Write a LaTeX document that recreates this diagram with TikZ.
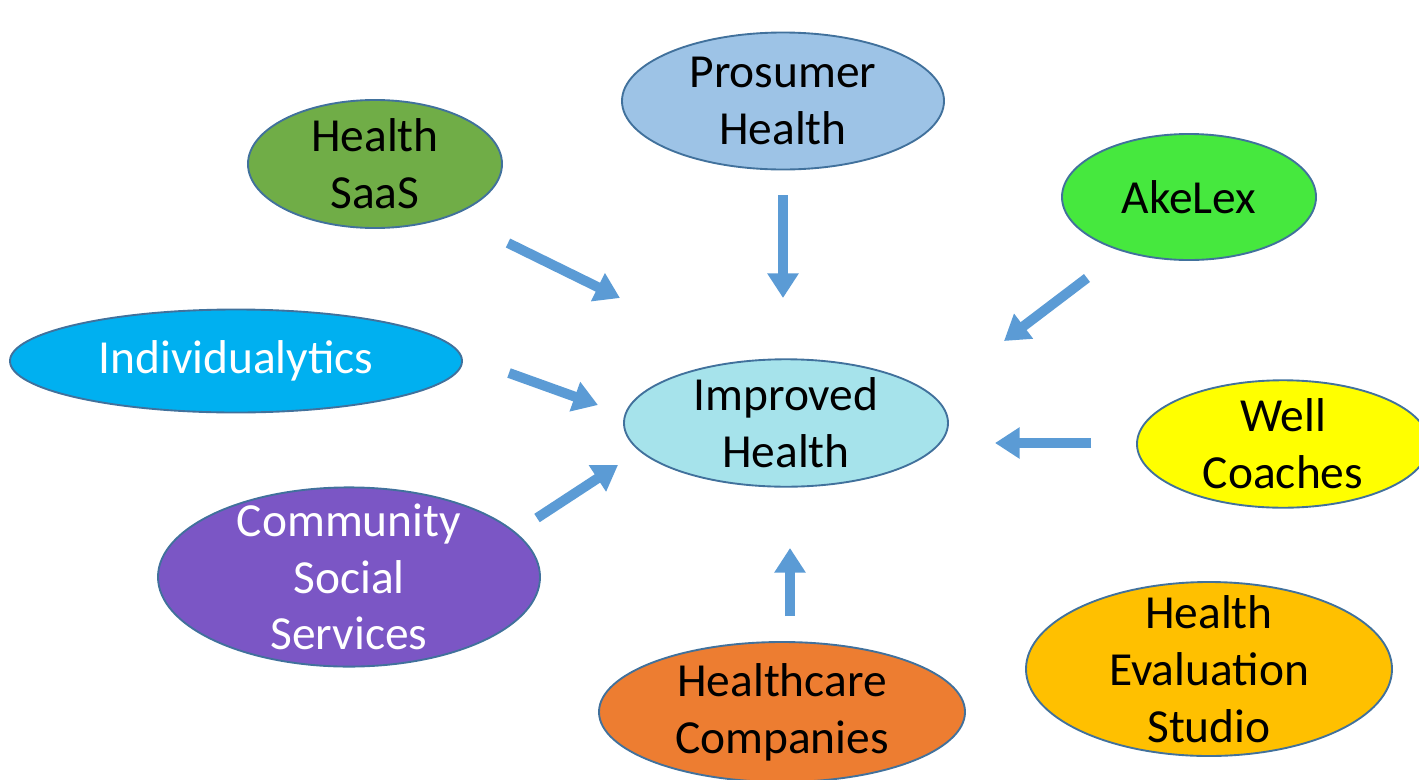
\documentclass[tikz,border=0pt]{standalone}
\usepackage{fontspec}
\setmainfont{Carlito}
\usetikzlibrary{shapes.geometric,arrows.meta}
\definecolor{edgeblue}{HTML}{41719C}
\definecolor{arrowblue}{HTML}{5B9BD5}
\definecolor{prosumer}{HTML}{9DC3E6}
\definecolor{saas}{HTML}{70AD47}
\definecolor{akelex}{HTML}{46E83E}
\definecolor{indiv}{HTML}{00B0F0}
\definecolor{improved}{HTML}{A6E3EB}
\definecolor{coach}{HTML}{FFFF00}
\definecolor{community}{HTML}{7B56C5}
\definecolor{healthcare}{HTML}{ED7D31}
\definecolor{evaluation}{HTML}{FFC000}

\begin{document}
\begin{tikzpicture}[x=0.03cm,y=-0.03cm,
     bubble/.style = {draw=edgeblue, line width=1.6pt, ellipse, inner sep=0pt,
      align=center, font=\fontsize{40.5}{48.5}\selectfont},
     flow/.style = {draw=arrowblue, line width=8.5pt,
      -{Triangle[width=25.5pt,length=21pt]}}
    ]
    \clip (0,0) rectangle (1419,779);

    \node [bubble, fill=improved, minimum width=9.72cm, minimum height=3.81cm] (health) at (786,423) {Improved\\Health};
    \node [bubble, fill=prosumer, minimum width=9.66cm, minimum height=4.11cm] (prosumer) at (783,101) {Prosumer\\Health};
    \node [bubble, fill=saas, minimum width=7.62cm, minimum height=3.84cm] (saas) at (375,164) {Health\\SaaS};
    \node [bubble, fill=akelex, minimum width=7.62cm, minimum height=3.78cm] (akelex) at (1189,197) {AkeLex};
    \node [bubble, fill=indiv, text=white, minimum width=13.56cm, minimum height=3.09cm] (indiv) at (236,361) {Individualytics};
    \node [bubble, fill=coach, minimum width=8.76cm, minimum height=3.81cm] (coach) at (1283,444) {Well\\Coaches};
    \node [bubble, fill=community, text=white, inner ysep=-8.5pt, minimum width=11.46cm, minimum height=5.37cm] (community) at (349,577) {Community\\Social\\Services};
    \node [bubble, fill=healthcare, minimum width=10.98cm, minimum height=4.2cm] (healthcare) at (782,712) {Healthcare\\Companies};
    \node [bubble, fill=evaluation, inner ysep=-10.2pt, minimum width=10.98cm, minimum height=5.22cm] (evaluation) at (1209,669) {Health\\Evaluation\\Studio};

    % arrow ends, free floating between the bubbles
    \coordinate (saas-out) at (508,243);
    \coordinate (saas-in) at (620,298);
    \coordinate (prosumer-out) at (783,195);
    \coordinate (prosumer-in) at (783,298);
    \coordinate (akelex-out) at (1087,278);
    \coordinate (akelex-in) at (1004,341);
    \coordinate (indiv-out) at (509,373);
    \coordinate (indiv-in) at (598,405);
    \coordinate (coach-out) at (1091,443);
    \coordinate (coach-in) at (995,443);
    \coordinate (community-out) at (537,518);
    \coordinate (community-in) at (618,465);
    \coordinate (healthcare-out) at (790,616);
    \coordinate (healthcare-in) at (790,548);

    \draw[flow] (saas-out) -- (saas-in);
    \draw[flow] (prosumer-out) -- (prosumer-in);
    \draw[flow] (akelex-out) -- (akelex-in);
    \draw[flow] (indiv-out) -- (indiv-in);
    \draw[flow] (coach-out) -- (coach-in);
    \draw[flow] (community-out) -- (community-in);
    \draw[flow] (healthcare-out) -- (healthcare-in);
\end{tikzpicture}
\end{document}
